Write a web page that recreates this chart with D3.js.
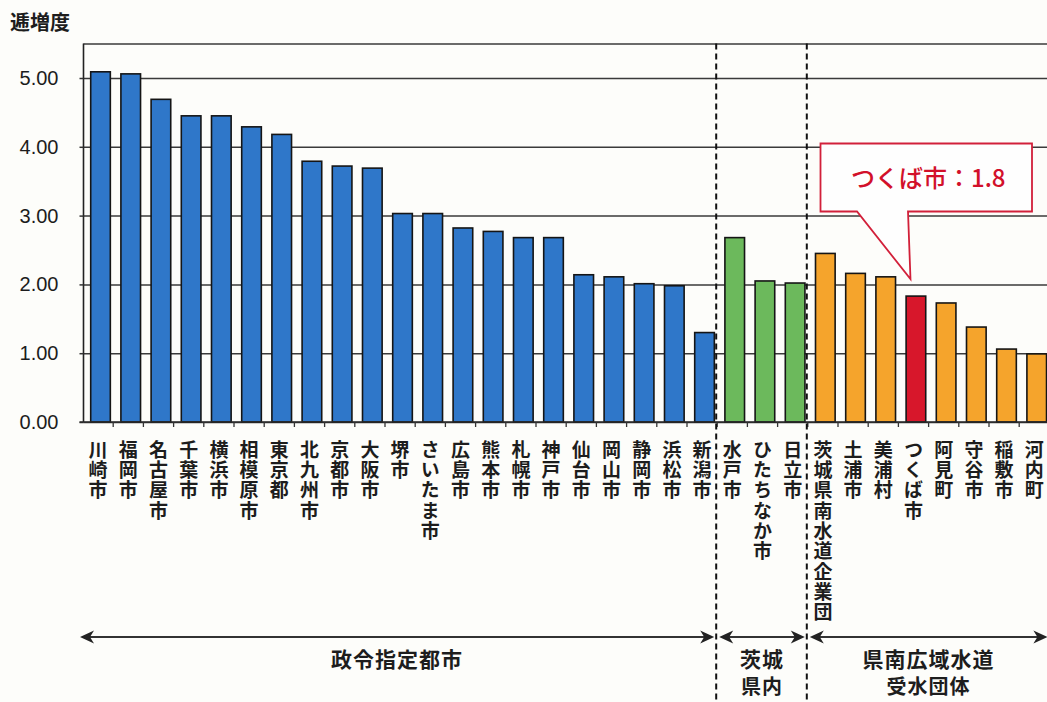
<!DOCTYPE html>
<html>
<head>
<meta charset="utf-8">
<script src="https://cdn.jsdelivr.net/npm/d3@7/dist/d3.min.js"></script>
<style>
  html, body { margin: 0; padding: 0; background: #fdfdfa; }
  svg { display: block; }
</style>
</head>
<body>
<script>
// ---------------- DATA ----------------
const categories = [
  "川崎市","福岡市","名古屋市","千葉市","横浜市","相模原市","東京都","北九州市","京都市","大阪市",
  "堺市","さいたま市","広島市","熊本市","札幌市","神戸市","仙台市","岡山市","静岡市","浜松市","新潟市",
  "水戸市","ひたちなか市","日立市",
  "茨城県南水道企業団","土浦市","美浦村","つくば市","阿見町","守谷市","稲敷市","河内町"
];
const values = [
  5.09, 5.06, 4.69, 4.45, 4.45, 4.29, 4.18, 3.79, 3.72, 3.69,
  3.03, 3.03, 2.82, 2.77, 2.68, 2.68, 2.14, 2.11, 2.01, 1.98, 1.30,
  2.68, 2.05, 2.02,
  2.45, 2.16, 2.11, 1.83, 1.73, 1.38, 1.06, 0.99
];
const groupLabels = [["政令指定都市"], ["茨城", "県内"], ["県南広域水道", "受水団体"]];
const groupStart = [0, 21, 24];
const groupEnd = [21, 24, 32];
const groupColors = ["#2f77c9", "#6cb95c", "#f5a42c"];
const highlightCategory = "つくば市";
const highlightColor = "#d7172b";
const calloutText = "つくば市：1.8";
const yTicks = [0, 1, 2, 3, 4, 5];
const yTickLabels = ["0.00", "1.00", "2.00", "3.00", "4.00", "5.00"];
const yTitle = "逓増度";

// ---------------- LAYOUT ----------------
const W = 1047, H = 702;
const svg = d3.select("body").append("svg").attr("width", W).attr("height", H);
svg.append("rect").attr("width", W).attr("height", H).attr("fill", "#fdfdfa");

const x = d3.scaleBand().domain(categories).range([83, 83 + 32 * 30.2]).padding(0);
const y = d3.scaleLinear().domain([0, 5.5]).range([422, 43.6]);
const bw = x.bandwidth();
const axisX = 83.5;

const groupOf = i => groupStart.findIndex((s, g) => i >= s && i < groupEnd[g]);

// gridlines
const grid = svg.append("g").attr("transform", `translate(${axisX},0)`)
  .call(d3.axisLeft(y).tickValues(yTicks.concat([5.5])).tickSize(-(W - axisX)).tickFormat(""));
grid.select(".domain").remove();
grid.selectAll(".tick line").attr("stroke", "#3a3a3a").attr("stroke-width", 1.5);

// bars
svg.append("g").selectAll("rect").data(categories).join("rect")
  .attr("x", d => x(d) + bw * 0.255)
  .attr("width", bw * 0.65)
  .attr("y", (d, i) => y(values[i]))
  .attr("height", (d, i) => y(0) - y(values[i]))
  .attr("fill", (d, i) => d === highlightCategory ? highlightColor : groupColors[groupOf(i)])
  .attr("stroke", "#151515")
  .attr("stroke-width", 1.6);

// y axis
const ya = svg.append("g").attr("transform", `translate(${axisX},0)`)
  .call(d3.axisLeft(y).tickValues(yTicks).tickSize(4).tickPadding(21)
    .tickFormat((d, i) => yTickLabels[i]));
ya.select(".domain").attr("d", `M0,${y(5.5)}V${y(0)}`).attr("stroke", "#222").attr("stroke-width", 1.6);
ya.selectAll(".tick line").attr("stroke", "#333").attr("stroke-width", 1.5);
ya.selectAll(".tick text").attr("font-family", "'Liberation Sans', Arial, sans-serif")
  .attr("font-size", 20).attr("fill", "#1c1c1c");

// x axis baseline + boundary ticks
const xa = svg.append("g").attr("transform", `translate(0,${y(0)})`)
  .call(d3.axisBottom(x).tickSize(0).tickFormat(""));
xa.select(".domain").attr("d", `M${axisX - 4},0H${W}`).attr("stroke", "#2a2a2a").attr("stroke-width", 1.6);
xa.selectAll(".tick").remove();
svg.append("g").selectAll("line").data(categories).join("line")
  .attr("x1", d => x(d) + bw).attr("x2", d => x(d) + bw)
  .attr("y1", y(0)).attr("y2", y(0) + 5)
  .attr("stroke", "#333").attr("stroke-width", 1.3);

// x labels (vertical writing)
const labels = svg.append("g")
  .attr("font-family", "'Noto Sans CJK JP', sans-serif")
  .attr("font-size", 19).attr("font-weight", 700).attr("fill", "#1d1d1d");
labels.selectAll("text").data(categories).join("text")
  .attr("x", d => x(d) + bw / 2)
  .attr("y", 440)
  .style("writing-mode", "vertical-rl")
  .style("text-orientation", "upright")
  .attr("letter-spacing", 1.3)
  .text(d => d);

// y title
svg.append("text").attr("x", 10).attr("y", 30)
  .attr("font-family", "'Noto Sans CJK JP', sans-serif")
  .attr("font-size", 20).attr("font-weight", 700).attr("fill", "#1d1d1d")
  .text(yTitle);

// dashed separators
[21, 24].forEach(b => {
  const bx = x(categories[b]) - 1;
  svg.append("line").attr("x1", bx).attr("x2", bx).attr("y1", y(5.5)).attr("y2", H)
    .attr("stroke", "#111").attr("stroke-width", 2).attr("stroke-dasharray", "6,4");
});

// group arrows
const arrowY = 637;
function arrowHead(tipX, dir) {
  const L = 14, h = 6.5, notch = 4;
  return `M${tipX},${arrowY}L${tipX + dir * L},${arrowY - h}L${tipX + dir * (L - notch)},${arrowY}L${tipX + dir * L},${arrowY + h}Z`;
}
const ag = svg.append("g");
groupStart.forEach((s, g) => {
  const left = (g === 0 ? x(categories[s]) - 3 : x(categories[s]) + 2);
  const right = (groupEnd[g] < categories.length ? x(categories[groupEnd[g]]) - 3 : x(categories[groupEnd[g] - 1]) + bw - 2);
  ag.append("line").attr("x1", left + 4).attr("x2", right - 4).attr("y1", arrowY).attr("y2", arrowY)
    .attr("stroke", "#333").attr("stroke-width", 2);
  ag.append("path").attr("d", arrowHead(left, 1)).attr("fill", "#222");
  ag.append("path").attr("d", arrowHead(right, -1)).attr("fill", "#222");
  const cx = (left + right) / 2;
  groupLabels[g].forEach((line, k) => {
    ag.append("text").attr("x", cx).attr("y", 667 + k * 27)
      .attr("text-anchor", "middle")
      .attr("font-family", "'Noto Sans CJK JP', sans-serif")
      .attr("font-size", k === 0 ? 21 : 20).attr("font-weight", 700).attr("letter-spacing", 1)
      .attr("fill", "#1d1d1d").text(line);
  });
});

// callout
const hi = categories.indexOf(highlightCategory);
const tipX = x(highlightCategory) + bw * 0.4;
const tipY = y(values[hi]) - 17;
const cl = svg.append("g");
const rx0 = 820.5, rx1 = 1032, ry0 = 143.5, ry1 = 211.5;
cl.append("path")
  .attr("d", `M${rx0},${ry0}H${rx1}V${ry1}H908L${tipX},${tipY}L857,${ry1}H${rx0}Z`)
  .attr("fill", "#fefefe").attr("stroke", "#d2203a").attr("stroke-width", 1.8);
cl.append("text").attr("x", (rx0 + rx1) / 2 + 2).attr("y", 187)
  .attr("text-anchor", "middle")
  .attr("font-family", "'Noto Sans CJK JP', sans-serif")
  .attr("font-size", 24).attr("font-weight", 500).attr("fill", "#d2102a")
  .text(calloutText);
</script>
</body>
</html>
